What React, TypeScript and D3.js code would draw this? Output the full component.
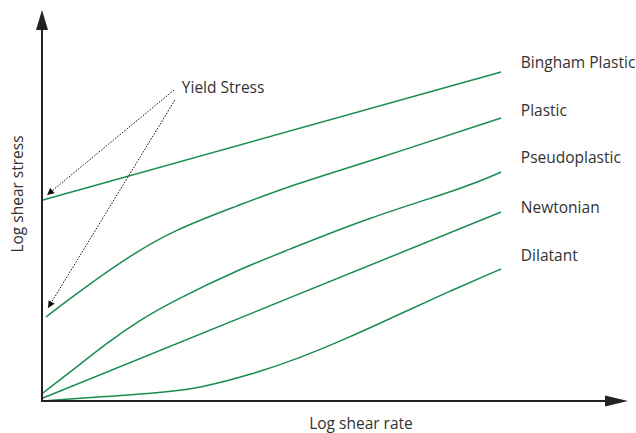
import React from "react";
import * as d3 from "d3";

type Pt = [number, number];

// curve points in chart units (x: 0–100 log shear rate, y: 0–100 log shear stress)
const binghamPlastic: Pt[] = [[0.2, 50.25], [99.8, 82.25]];
const plastic: Pt[] = [
  [0.87, 21], [5.65, 25.25], [17.6, 35.25], [28.5, 42.75], [43, 49],
  [52.4, 53.25], [72, 60.25], [99.8, 70.75]
];
const pseudoplastic: Pt[] = [
  [0.2, 2], [6.7, 7.75], [14.1, 14.5], [21.3, 20.25], [28.5, 25], [43, 33],
  [52.4, 37.25], [70.7, 45.75], [92.4, 53.5], [99.8, 57.25]
];
const newtonian: Pt[] = [[0.2, 0.75], [99.8, 47.25]];
const dilatant: Pt[] = [
  [0.2, 0], [12.6, 1], [27.2, 2.25], [34.3, 3.25], [45.2, 6.5], [56.1, 10.75],
  [67, 16], [77.8, 21.75], [88.7, 27.5], [99.8, 33]
];

const seriesNames = ["Bingham Plastic", "Plastic", "Pseudoplastic", "Newtonian", "Dilatant"];
const seriesData = [binghamPlastic, plastic, pseudoplastic, newtonian, dilatant];
const labelY = [83.25, 71.25, 59.5, 47, 35];
const labelX = 104.1;

// yield stress annotation: text anchor and arrows [from, to]
const yieldLabel: Pt = [30.4, 77];
const yieldArrows: [Pt, Pt][] = [
  [[28.7, 77.75], [1.1, 51.5]],
  [[28.9, 75.25], [1.3, 23.25]]
];

const W = 636, H = 433;
const green = "#1a8c4e";
const axisColor = "#222";
const font = "'Open Sans', 'Noto Sans', sans-serif";
const fs = 15.5;

const App = () => {
  const x = d3.scaleLinear().domain([0, 100]).range([42, 502]);
  const y = d3.scaleLinear().domain([0, 100]).range([401, 1]);
  // basis smooths out the small reading errors in the points
  const line = d3
    .line<Pt>()
    .x(d => x(d[0]))
    .y(d => y(d[1]))
    .curve(d3.curveBasis);

  const x0 = x(0), y0 = y(0);

  return (
    <svg width={W} height={H} style={{ position: "absolute", left: 0, top: 0, background: "#fff" }}>
      <defs>
        <marker id="dotArrow" viewBox="0 0 10 10" refX="10" refY="5" markerWidth="9" markerHeight="7"
          markerUnits="userSpaceOnUse" orient="auto">
          <path d="M0,0 L10,5 L0,10 Z" fill="#111" />
        </marker>
      </defs>

      {/* curves */}
      {seriesData.map((s, i) => (
        <path key={seriesNames[i]} d={line(s) || ""} fill="none" stroke={green} strokeWidth={1.5} />
      ))}

      {/* axes */}
      <line x1={x0} y1={y0} x2={x0} y2={28} stroke={axisColor} strokeWidth={2} />
      <path d={`M${x0},10 L${x0 + 6},30 L${x0 - 6},30 Z`} fill={axisColor} />
      <line x1={x0 - 1} y1={y0} x2={608} y2={y0} stroke={axisColor} strokeWidth={2} />
      <path d={`M628,${y0} L605,${y0 - 5.5} L605,${y0 + 5.5} Z`} fill={axisColor} />

      {/* series labels */}
      {seriesNames.map((n, i) => (
        <text key={n} x={x(labelX)} y={y(labelY[i])} fontFamily={font} fontSize={fs} fill="#333">
          {n}
        </text>
      ))}

      {/* yield stress */}
      <text x={x(yieldLabel[0])} y={y(yieldLabel[1])} fontFamily={font} fontSize={fs} fill="#333">
        Yield Stress
      </text>
      {yieldArrows.map((a, i) => (
        <line key={i} x1={x(a[0][0])} y1={y(a[0][1])} x2={x(a[1][0])} y2={y(a[1][1])}
          stroke="#111" strokeWidth={1} strokeDasharray="1.5,1.5" markerEnd="url(#dotArrow)" />
      ))}

      {/* axis titles */}
      <text x={361} y={429} textAnchor="middle" fontFamily={font} fontSize={fs} fill="#333">
        Log shear rate
      </text>
      <text transform="translate(23,194) rotate(-90)" textAnchor="middle" fontFamily={font} fontSize={fs} fill="#333">
        Log shear stress
      </text>
    </svg>
  );
};

export default App;
